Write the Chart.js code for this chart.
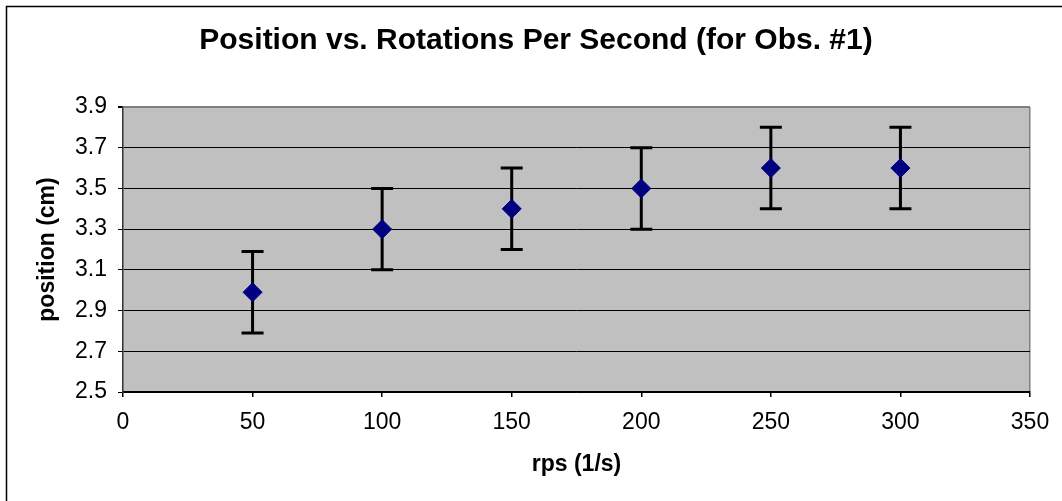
<!DOCTYPE html>
<html>
<head>
<meta charset="utf-8">
<script src="https://cdn.jsdelivr.net/npm/chart.js@4/dist/chart.umd.min.js"></script>
<style>
  body { margin: 0; background: #fff; }
  canvas { display: block; }
</style>
</head>
<body>
<canvas id="posChart" width="1062" height="501"></canvas>
<script>
// data
const rps = [50, 100, 150, 200, 250, 300];
const position = [2.99, 3.3, 3.4, 3.5, 3.6, 3.6];
const posError = [0.2, 0.2, 0.2, 0.2, 0.2, 0.2];

const chartTitle = 'Position vs. Rotations Per Second (for Obs. #1)';
const xTitle = 'rps (1/s)';
const yTitle = 'position (cm)';

const FONT = '"Liberation Sans", Arial, sans-serif';

// gray plot area, outer frame and main title
const frame = {
    id: 'frame',
    beforeDraw(chart) {
        const { ctx, chartArea: a } = chart;
        ctx.save();
        ctx.fillStyle = '#fff';
        ctx.fillRect(0, 0, chart.width, chart.height);
        ctx.fillStyle = '#c0c0c0';
        ctx.fillRect(a.left, a.top, a.right - a.left, a.bottom - a.top);
        // outer chart border (left + top only visible)
        ctx.strokeStyle = '#000';
        ctx.lineWidth = 1.5;
        ctx.beginPath();
        ctx.moveTo(6.5, chart.height);
        ctx.lineTo(6.5, 6.5);
        ctx.lineTo(chart.width, 6.5);
        ctx.stroke();
        // title
        ctx.fillStyle = '#000';
        ctx.font = 'bold 30px ' + FONT;
        ctx.textAlign = 'center';
        ctx.textBaseline = 'middle';
        ctx.fillText(chartTitle, 536, 41);
        ctx.restore();
    }
};

// error bars (±posError) drawn under the markers
const errorBars = {
    id: 'errorBars',
    beforeDatasetsDraw(chart) {
        const { ctx, scales: { x, y } } = chart;
        ctx.save();
        ctx.strokeStyle = '#000';
        ctx.lineWidth = 3;
        rps.forEach((v, i) => {
            const px = x.getPixelForValue(v);
            const top = y.getPixelForValue(position[i] + posError[i]);
            const bot = y.getPixelForValue(position[i] - posError[i]);
            ctx.beginPath();
            ctx.moveTo(px, top);
            ctx.lineTo(px, bot);
            ctx.moveTo(px - 11, top);
            ctx.lineTo(px + 11, top);
            ctx.moveTo(px - 11, bot);
            ctx.lineTo(px + 11, bot);
            ctx.stroke();
        });
        ctx.restore();
    }
};

new Chart(document.getElementById('posChart'), {
    type: 'scatter',
    data: {
        datasets: [{
            label: 'Obs. #1',
            data: rps.map((v, i) => ({ x: v, y: position[i] })),
            backgroundColor: '#000080',
            borderColor: '#000080',
            borderWidth: 1,
            pointStyle: 'rectRot',
            pointRadius: 9.5,
            pointHoverRadius: 9.5
        }]
    },
    options: {
        responsive: false,
        animation: false,
        layout: { padding: { top: 107, right: 32, left: 0, bottom: 0 } },
        plugins: {
            legend: { display: false },
            title: { display: false },
            tooltip: { enabled: false }
        },
        scales: {
            x: {
                type: 'linear',
                min: 0,
                max: 350,
                afterFit: function(scale) { scale.height = 109; },
                ticks: {
                    stepSize: 50,
                    color: '#000',
                    padding: 12,
                    maxRotation: 0,
                    font: { family: FONT, size: 23 }
                },
                grid: {
                    color: ctx => ctx.tick && ctx.tick.value === 350 ? '#808080' : 'rgba(0,0,0,0)',
                    lineWidth: 1.5,
                    tickColor: '#000',
                    tickLength: 5
                },
                border: { color: '#000', width: 1.5 },
                title: {
                    display: true,
                    text: xTitle,
                    color: '#000',
                    font: { family: FONT, size: 23, weight: 'bold' },
                    padding: { top: 0, bottom: 23 }
                }
            },
            y: {
                min: 2.5,
                max: 3.9,
                afterFit: function(scale) { scale.width = 123; },
                ticks: {
                    stepSize: 0.2,
                    color: '#000',
                    padding: 11,
                    font: { family: FONT, size: 23 },
                    callback: function(value) { return value.toFixed(1); }
                },
                grid: {
                    color: ctx => ctx.tick && ctx.tick.value > 3.89 ? '#808080' : '#000',
                    lineWidth: ctx => ctx.tick && ctx.tick.value > 3.89 ? 2 : 1,
                    tickColor: '#000',
                    tickLength: 5
                },
                border: { color: '#333', width: 1.5 },
                title: {
                    display: true,
                    text: yTitle,
                    color: '#000',
                    font: { family: FONT, size: 23, weight: 'bold' },
                    padding: { top: 34, bottom: 0 }
                }
            }
        }
    },
    plugins: [frame, errorBars]
});
</script>
</body>
</html>
